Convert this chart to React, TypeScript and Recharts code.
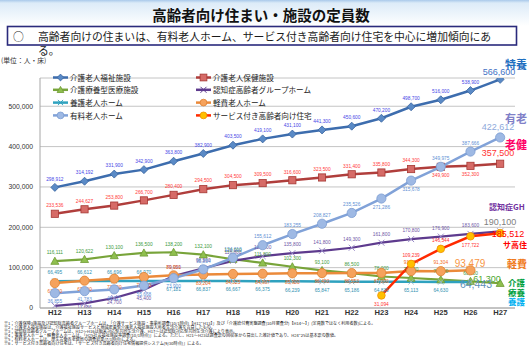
import React from 'react';
import { ComposedChart, Line, XAxis, YAxis, CartesianGrid } from 'recharts';

// ---- data ----
const categories = ['H12', 'H13', 'H14', 'H15', 'H16', 'H17', 'H18', 'H19', 'H20', 'H21', 'H22', 'H23', 'H24', 'H25', 'H26', 'H27'];
const tokuyou = [298912, 314192, 331900, 342900, 363800, 382900, 403500, 419100, 431100, 441300, 450600, 470200, 498700, 516000, 538900, 566600];
const rouken = [233536, 244627, 253800, 266700, 280400, 294500, 304500, 309500, 316600, 323500, 331400, 335800, 344300, 349900, 352300, 357500];
const ryouyou = [116111, 120622, 130100, 136500, 138200, 132100, 120900, 111800, 102300, 93100, 86500, 78000, 74300, 70300, 66100, 61300];
const ninchiGH = [5450, 11686, 24700, 45400, 79000, 98500, 116800, 128500, 135800, 141800, 149300, 161800, 170800, 176900, 183600, 190100];
const yougo = [66495, 66612, 66696, 66970, 67181, 66837, 66667, 66375, 66239, 65847, 65186, 64830, 65113, 64630, 64443, null];
const keihi = [61700, 67700, 72700, 76800, 80951, 83204, 84325, 84967, 85900, 86400, 86553, 87000, 91474, 91304, 93479, null];
const yuryou = [36855, 41783, 46121, 55668, 73900, 95854, 124610, 155612, 183255, 208827, 235526, 271286, 315678, 349975, 387666, 422612];
const sakoujuu = [null, null, null, null, null, null, null, null, null, null, null, 31094, 109239, 146544, 177722, 185512];
const yTicks = [0, 100000, 200000, 300000, 400000, 500000];

const data = categories.map((c, i) => ({
  cat: c,
  tokuyou: tokuyou[i],
  rouken: rouken[i],
  ryouyou: ryouyou[i],
  ninchiGH: ninchiGH[i],
  yougo: yougo[i],
  keihi: keihi[i],
  yuryou: yuryou[i],
  sakoujuu: sakoujuu[i],
}));

const JP = '"Noto Sans CJK JP", "Noto Sans", sans-serif';
const LAT = '"Liberation Sans", sans-serif';
const fmt = (v: number) => v.toLocaleString('en-US');

type Shape = 'diamond' | 'square' | 'triangle' | 'cross' | 'circle';

function Marker({ shape, cx, cy, fill, stroke, s }: { shape: Shape; cx: number; cy: number; fill: string; stroke: string; s: number }) {
  switch (shape) {
    case 'diamond':
      return <polygon points={`${cx},${cy - s} ${cx + s},${cy} ${cx},${cy + s} ${cx - s},${cy}`} fill={fill} stroke={stroke} strokeWidth={0.8} />;
    case 'square':
      return <rect x={cx - s} y={cy - s} width={2 * s} height={2 * s} fill={fill} stroke={stroke} strokeWidth={0.8} />;
    case 'triangle':
      return <polygon points={`${cx},${cy - s} ${cx + s},${cy + s * 0.8} ${cx - s},${cy + s * 0.8}`} fill={fill} stroke={stroke} strokeWidth={0.8} />;
    case 'cross':
      return (
        <g stroke={stroke} strokeWidth={1}>
          <line x1={cx - s} y1={cy - s} x2={cx + s} y2={cy + s} />
          <line x1={cx - s} y1={cy + s} x2={cx + s} y2={cy - s} />
        </g>
      );
    default:
      return <circle cx={cx} cy={cy} r={s} fill={fill} stroke={stroke} strokeWidth={0.8} />;
  }
}

type SeriesCfg = {
  key: string;
  name: string;
  color: string;
  width: number;
  shape: Shape;
  mFill: string;
  mStroke: string;
  mSize: number;
  labelColor: string;
  below: number[];
  skip: number[];
};

const series: SeriesCfg[] = [
  { key: 'tokuyou', name: '介護老人福祉施設', color: '#3D6DAE', width: 2.5, shape: 'diamond', mFill: '#5A8AC6', mStroke: '#3A64A0', mSize: 4, labelColor: '#4646E6', below: [], skip: [15] },
  { key: 'rouken', name: '介護老人保健施設', color: '#B03E3C', width: 2.5, shape: 'square', mFill: '#D66B67', mStroke: '#A53733', mSize: 3.6, labelColor: '#FF3B3B', below: [13, 14], skip: [15] },
  { key: 'ryouyou', name: '介護療養型医療施設', color: '#78A43A', width: 2.2, shape: 'triangle', mFill: '#8FBF4E', mStroke: '#6F9A33', mSize: 4, labelColor: '#3C9A3C', below: [], skip: [15] },
  { key: 'ninchiGH', name: '認知症高齢者グループホーム', color: '#5E3B8E', width: 2.2, shape: 'cross', mFill: 'none', mStroke: '#9A8CC8', mSize: 3, labelColor: '#6E56A6', below: [0, 1, 2, 3], skip: [15] },
  { key: 'yougo', name: '養護老人ホーム', color: '#2FA2BF', width: 2.5, shape: 'cross', mFill: 'none', mStroke: '#8FB7C7', mSize: 2.6, labelColor: '#2E8FB0', below: [4, 5, 6, 7, 8, 9, 10, 11, 12, 13], skip: [14] },
  { key: 'keihi', name: '軽費老人ホーム', color: '#EB8A3A', width: 2.5, shape: 'circle', mFill: '#F5A25C', mStroke: '#E0802E', mSize: 4.6, labelColor: '#F26A1B', below: [0, 1, 2, 3, 5, 6, 7, 8, 9, 10, 11], skip: [14] },
  { key: 'yuryou', name: '有料老人ホーム', color: '#81A2D8', width: 2.5, shape: 'circle', mFill: '#9EB9E4', mStroke: '#7C9DD2', mSize: 4.6, labelColor: '#5E8FD4', below: [0, 1, 2, 3, 4, 11, 12], skip: [15] },
  { key: 'sakoujuu', name: 'サービス付き高齢者向け住宅', color: '#FF2A00', width: 2.5, shape: 'circle', mFill: '#FFC000', mStroke: '#F09000', mSize: 3.8, labelColor: '#FF3030', below: [11, 14], skip: [15] },
];

const makeDot = (s: SeriesCfg) => (props: any) => {
  const { cx, cy, index } = props;
  const raw = props.payload ? props.payload[s.key] : props.value;
  if (typeof cx !== 'number' || typeof cy !== 'number' || isNaN(cy) || raw == null) {
    return <g key={`${s.key}-d-${index}`} />;
  }
  const isBelow = s.below.includes(index);
  // labels that would fall onto the category axis sit a little closer to their marker
  let ly = isBelow ? cy + 9 : cy - 8;
  if (isBelow && ly > 305) ly = Math.min(ly, cy + 4.5);
  return (
    <g key={`${s.key}-d-${index}`}>
      <Marker shape={s.shape} cx={cx} cy={cy} fill={s.mFill} stroke={s.mStroke} s={s.mSize} />
      {!s.skip.includes(index) && (
        <text x={cx} y={ly} fontSize={4.8} fill={s.labelColor} textAnchor="middle" dominantBaseline="middle" fontFamily={LAT}>
          {fmt(raw)}
        </text>
      )}
    </g>
  );
};

const legendRows = [
  [series[0], series[1]],
  [series[2], series[3]],
  [series[4], series[5]],
  [series[6], series[7]],
];
const legendRowY = [77.5, 89.8, 102.6, 115.4];
const legendColX = [53, 196];

const footnotes = [
  '※1：介護保険3施設及び認知症高齢者グループホームは、「介護サービス施設・事業所調査(10/1時点)【H12･H13】」及び「介護給付費実態調査(10月審査分)【H14～】」(定員数ではなく利用者数)による。',
  '※2：介護老人福祉施設は、介護福祉施設サービスと地域密着型介護老人福祉施設入所者生活介護を合算したもの。',
  '※3：認知症高齢者グループホームは、H12～H16は痴呆対応型共同生活介護、H17～は認知症対応型共同生活介護により表示。',
  '※4：養護老人ホーム・軽費老人ホームは、「H25社会福祉施設等調査(10/1時点)」による。ただし、H21～H23は調査票の回収率から算出した推計値であり、H24･25は基本票の数値。',
  '※5：有料老人ホームは、厚生労働省老健局の調査結果(7/1時点)による。',
  '※6：サービス付き高齢者向け住宅は、「サービス付き高齢者向け住宅情報提供システム(9/30時点)」による。',
];

type Note = { t: string; x: number; y: number; size: number; color: string; bold?: boolean; anchor?: 'start' | 'middle' | 'end' };
const endNotes: Note[] = [
  { t: '特養', x: 505, y: 64, size: 11, color: '#1F6FC0', bold: true },
  { t: '566,600', x: 499, y: 71.5, size: 9, color: '#4472C4', anchor: 'middle' },
  { t: '有老', x: 505, y: 118, size: 11, color: '#8080C8', bold: true },
  { t: '422,612', x: 498, y: 127, size: 9, color: '#8EA9DB', anchor: 'middle' },
  { t: '老健', x: 505, y: 143.5, size: 11, color: '#FF0066', bold: true },
  { t: '357,500', x: 498, y: 153, size: 9, color: '#FF3333', anchor: 'middle' },
  { t: '認知症GH', x: 489, y: 206, size: 8, color: '#7030A0', bold: true },
  { t: '190,100', x: 500, y: 222, size: 9, color: '#7F7F7F', anchor: 'middle' },
  { t: '185,512', x: 508, y: 233.5, size: 9, color: '#FF0000', anchor: 'middle' },
  { t: 'サ高住', x: 503, y: 244, size: 8, color: '#FF0000', bold: true },
  { t: '軽費', x: 507, y: 263, size: 10, color: '#F07A1A', bold: true },
  { t: '93,479', x: 470, y: 263, size: 10, color: '#F79646', anchor: 'middle' },
  { t: '61,300', x: 487, y: 279, size: 9, color: '#4EA72E', anchor: 'middle' },
  { t: '介護', x: 508, y: 282, size: 8.5, color: '#00A040', bold: true },
  { t: '64,443', x: 476, y: 284, size: 10.5, color: '#5B8FB9', anchor: 'middle' },
  { t: '療養', x: 508, y: 292, size: 8.5, color: '#00A040', bold: true },
  { t: '養護', x: 508, y: 301, size: 8.5, color: '#00B0F0', bold: true },
];

export default function App() {
  return (
    <div style={{ position: 'absolute', left: 0, top: 0, width: 529, height: 363, background: '#ffffff', overflow: 'hidden', fontFamily: JP }}>
      <div style={{ position: 'absolute', left: 0, top: 0, width: 529, height: 26, background: 'linear-gradient(#a9c9ea 0px, #dcebf8 3px, #ffffff 26px)' }} />
      <div style={{ position: 'absolute', left: 0, top: 0 }}>
        <ComposedChart width={529} height={363} data={data} margin={{ top: 78, right: 14, bottom: 40, left: 0 }}>
          <CartesianGrid vertical={false} stroke="#c4c4c4" strokeWidth={1} />
          <XAxis
            dataKey="cat"
            scale="band"
            height={15}
            tickLine={false}
            tickSize={1}
            tickMargin={1}
            axisLine={{ stroke: '#a6a6a6' }}
            interval={0}
            tick={{ fontSize: 7.6, fontWeight: 'bold', fill: '#333333', fontFamily: LAT }}
          />
          <YAxis
            width={40}
            domain={[0, 570000]}
            ticks={yTicks}
            allowDataOverflow
            tickLine={false}
            tickSize={5}
            tickMargin={2}
            axisLine={{ stroke: '#a6a6a6' }}
            tickFormatter={(v: number) => fmt(v)}
            tick={{ fontSize: 6.8, fill: '#333333', fontFamily: LAT }}
          />
          {series.map((s) => (
            <Line
              key={s.key}
              dataKey={s.key}
              name={s.name}
              type="linear"
              stroke={s.color}
              strokeWidth={s.width}
              dot={makeDot(s)}
              activeDot={false}
              isAnimationActive={false}
            />
          ))}
        </ComposedChart>
      </div>
      <svg width={529} height={363} style={{ position: 'absolute', left: 0, top: 0, pointerEvents: 'none' }} fontFamily={JP}>
        <text x={261} y={14.5} textAnchor="middle" dominantBaseline="central" fontSize={14.5} fontWeight="bold" fill="#111111">
          高齢者向け住まい・施設の定員数
        </text>
        <rect x={7.5} y={26.5} width={509} height={18.5} fill="#ffffff" stroke="#2A2A7C" strokeWidth={1.6} />
        <text x={13} y={35.5} dominantBaseline="central" fontSize={10.8} fill="#1a1a1a">○</text>
        <text x={38} y={35.5} dominantBaseline="central" fontSize={10.8} fill="#1a1a1a">
          高齢者向けの住まいは、有料老人ホーム、サービス付き高齢者向け住宅を中心に増加傾向にあ
        </text>
        <text x={38} y={50} dominantBaseline="central" fontSize={10.8} fill="#1a1a1a">る。</text>
        <text x={1} y={59.5} dominantBaseline="central" fontSize={6.8} fill="#333333">(単位：人・床)</text>

        {legendRows.map((row, ri) =>
          row.map((s, ci) => {
            const x0 = legendColX[ci];
            const y = legendRowY[ri];
            return (
              <g key={`lg-${ri}-${ci}`}>
                <line x1={x0} y1={y} x2={x0 + 15} y2={y} stroke={s.color} strokeWidth={2.5} />
                <Marker shape={s.shape} cx={x0 + 7.5} cy={y} fill={s.mFill} stroke={s.shape === 'cross' ? s.color : s.mStroke} s={Math.min(s.mSize, 3.4)} />
                <text x={x0 + 17} y={y} dominantBaseline="central" fontSize={7.6} fill="#222222">{s.name}</text>
              </g>
            );
          })
        )}

        {endNotes.map((n, i) => (
          <text
            key={`en-${i}`}
            x={n.x}
            y={n.y}
            dominantBaseline="central"
            textAnchor={n.anchor || 'start'}
            fontSize={n.size}
            fontWeight={n.bold ? 'bold' : 'normal'}
            fill={n.color}
            fontFamily={n.bold ? JP : LAT}
          >
            {n.t}
          </text>
        ))}

        {footnotes.map((f, i) => (
          <text key={`fn-${i}`} x={4} y={322.5 + i * 4.05} dominantBaseline="central" fontSize={4.1} fill="#222222">
            {f}
          </text>
        ))}
      </svg>
    </div>
  );
}
